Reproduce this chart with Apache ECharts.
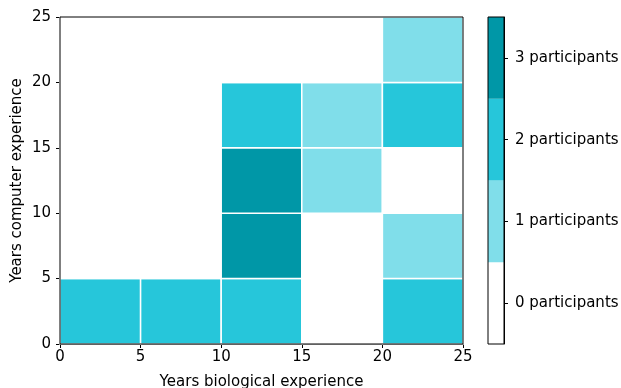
<!DOCTYPE html>
<html>
<head>
<meta charset="utf-8">
<script src="https://cdn.jsdelivr.net/npm/echarts@6/dist/echarts.min.js"></script>
<style>html,body{margin:0;padding:0;background:#fff}#c{width:621px;height:388px}</style>
</head>
<body>
<div id="c"></div>
<script>
// bin edges (years), same for both axes
var binEdges = [0, 5, 10, 15, 20, 25];
// participant counts: one array per x bin (biological experience), values per y bin (computer experience) bottom->top
var countsX0 = [2, 0, 0, 0, 0];
var countsX1 = [2, 0, 0, 0, 0];
var countsX2 = [2, 3, 3, 2, 0];
var countsX3 = [0, 0, 1, 1, 0];
var countsX4 = [2, 1, 0, 2, 1];
var colorbarLabels = ['0 participants', '1 participants', '2 participants', '3 participants'];
var colorbarValues = [0, 1, 2, 3];
var palette = ['#ffffff', '#80deea', '#26c6da', '#0097a7'];

var countsByX = [countsX0, countsX1, countsX2, countsX3, countsX4];
var cells = [];
countsByX.forEach(function (col, i) {
  col.forEach(function (v, j) {
    cells.push([binEdges[i], binEdges[j], binEdges[i + 1], binEdges[j + 1], v]);
  });
});

var FONT = 'DejaVu Sans';
var FS = 15;
var chart = echarts.init(document.getElementById('c'), null, {renderer: 'canvas'});
chart.setOption({
  animation: false,
  textStyle: {fontFamily: FONT},
  grid: [
    {left: 60, top: 17, width: 403, height: 327, show: true, borderColor: '#000', borderWidth: 1, backgroundColor: 'transparent', z: 10, outerBoundsMode: 'none', containLabel: false},
    {left: 488, top: 17, width: 16, height: 327, show: true, borderColor: '#000', borderWidth: 1, backgroundColor: 'transparent', z: 10, outerBoundsMode: 'none', containLabel: false}
  ],
  xAxis: [
    {gridIndex: 0, type: 'value', min: 0, max: 25, interval: 5,
     name: 'Years biological experience', nameLocation: 'middle', nameGap: 31, nameMoveOverlap: false,
     nameTextStyle: {fontFamily: FONT, fontSize: FS, color: '#000'},
     axisLine: {show: true, lineStyle: {color: '#000', width: 1}},
     axisTick: {show: true, length: 4, lineStyle: {color: '#000'}},
     axisLabel: {fontFamily: FONT, fontSize: FS, color: '#000', margin: 6},
     splitLine: {show: false}},
    {gridIndex: 1, type: 'category', data: [''], show: false}
  ],
  yAxis: [
    {gridIndex: 0, type: 'value', min: 0, max: 25, interval: 5,
     name: 'Years computer experience', nameLocation: 'middle', nameGap: 35, nameMoveOverlap: false,
     nameTextStyle: {fontFamily: FONT, fontSize: FS, color: '#000'},
     axisLine: {show: true, lineStyle: {color: '#000', width: 1}},
     axisTick: {show: true, length: 4, lineStyle: {color: '#000'}},
     axisLabel: {fontFamily: FONT, fontSize: FS, color: '#000', margin: 9},
     splitLine: {show: false}},
    {gridIndex: 1, type: 'category', data: colorbarLabels, position: 'right',
     axisLine: {show: true, lineStyle: {color: '#000', width: 1}},
     axisTick: {show: true, length: 4, alignWithLabel: true, lineStyle: {color: '#000'}},
     axisLabel: {fontFamily: FONT, fontSize: FS, color: '#000', margin: 11},
     splitLine: {show: false}}
  ],
  series: [
    {type: 'custom', xAxisIndex: 0, yAxisIndex: 0, data: cells,
     renderItem: function (params, api) {
       var p0 = api.coord([api.value(0), api.value(1)]);
       var p1 = api.coord([api.value(2), api.value(3)]);
       var v = api.value(4);
       return {type: 'rect',
         shape: {x: p0[0], y: p1[1], width: p1[0] - p0[0], height: p0[1] - p1[1]},
         style: {fill: palette[v], stroke: '#ffffff', lineWidth: 1.5}};
     }},
    {type: 'custom', xAxisIndex: 1, yAxisIndex: 1,
     data: colorbarValues.map(function (v, i) { return [0, i, v]; }),
     renderItem: function (params, api) {
       var c = api.coord([api.value(0), api.value(1)]);
       var s = api.size([1, 1]);
       return {type: 'rect',
         shape: {x: c[0] - s[0] / 2, y: c[1] - s[1] / 2, width: s[0], height: s[1]},
         style: {fill: palette[api.value(2)]}};
     }}
  ]
});
</script>
</body>
</html>
